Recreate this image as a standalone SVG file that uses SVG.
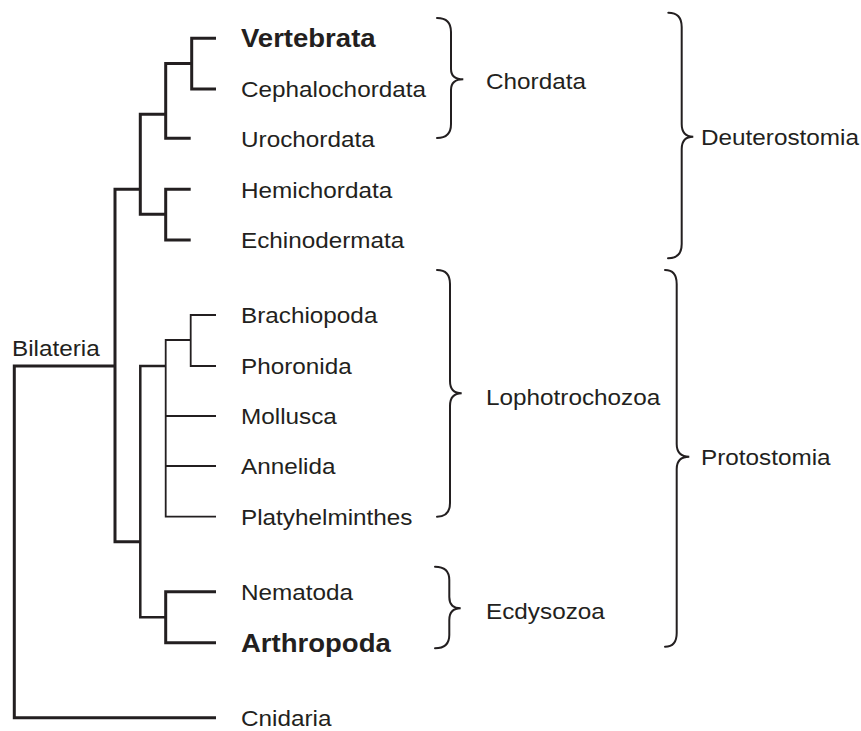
<svg xmlns="http://www.w3.org/2000/svg" width="861" height="731" viewBox="0 0 861 731">
<style>
.t{font-family:"Liberation Sans",Arial,sans-serif;font-size:22.5px;fill:#231f20}
.b{font-weight:bold;font-size:25.5px}
.thick{fill:none;stroke:#231f20;stroke-width:3;stroke-linejoin:miter}
.mid{fill:none;stroke:#231f20;stroke-width:2.5;stroke-linejoin:miter}
.thin{fill:none;stroke:#231f20;stroke-width:1.8;stroke-linejoin:miter}
.br{fill:none;stroke:#231f20;stroke-width:2;stroke-linecap:round}
</style>
<rect width="861" height="731" fill="#fff"/>
<g id="connectors">
<path class="thick" d="M216,38.3H191.7V89H216"/>
<path class="thick" d="M191.7,63.5H165.7V138.3H190.7"/>
<path class="thick" d="M165.7,114.3H140.3V214.3H165.7"/>
<path class="thick" d="M190.7,189.3H165.7V240H190.7"/>
<path class="thick" d="M140.3,189.3H115V541.7H140.3"/>
<path class="thick" d="M115,366H14.3V717.7H216"/>
<path class="mid" d="M165.7,366H140.3V617.3H165.7"/>
<path class="thick" d="M216,591.7H165.7V642.7H216"/>
<path class="thin" d="M190.7,340H165.7V516.7H216M165.7,416H216M165.7,466H216M216,315H190.7V366H216"/>
</g>
<g id="brackets">
<path id="br-chordata" class="br" d="M437,18Q451,18 451,32V69Q451,79.3 463.3,79.3Q451,79.3 451,90V124Q451,138 437,138"/>
<path id="br-deutero" class="br" d="M668.3,12.7Q681.7,12.7 681.7,27V124Q681.7,136.7 693.3,136.7Q681.7,136.7 681.7,149V244Q681.7,258.3 668,258.3"/>
<path id="br-lopho" class="br" d="M437,270Q450,270 450,284V381Q450,393.3 461.7,393.3Q450,393.3 450,406V503Q450,516.7 437,516.7"/>
<path id="br-ecdy" class="br" d="M435,566.7Q449.3,566.7 449.3,580V597Q449.3,608.3 460.7,608.3Q449.3,608.3 449.3,620V635Q449.3,648.3 435,648.3"/>
<path id="br-proto" class="br" d="M665,270Q676.7,270 676.7,284V444Q676.7,456.7 689.3,456.7Q676.7,456.7 676.7,469V633Q676.7,646.7 665,646.7"/>
</g>
<g id="n-vertebrata"><text class="t b" transform="translate(241 47) scale(1.08 1)">Vertebrata</text></g>
<g id="n-cephalochordata"><text class="t" transform="translate(241 97) scale(1.08 1)">Cephalochordata</text></g>
<g id="n-urochordata"><text class="t" transform="translate(241 146.5) scale(1.08 1)">Urochordata</text></g>
<g id="n-hemichordata"><text class="t" transform="translate(241 197.5) scale(1.08 1)">Hemichordata</text></g>
<g id="n-echinodermata"><text class="t" transform="translate(241 248) scale(1.08 1)">Echinodermata</text></g>
<g id="n-brachiopoda"><text class="t" transform="translate(241 323) scale(1.08 1)">Brachiopoda</text></g>
<g id="n-phoronida"><text class="t" transform="translate(241 374) scale(1.08 1)">Phoronida</text></g>
<g id="n-mollusca"><text class="t" transform="translate(241 424) scale(1.08 1)">Mollusca</text></g>
<g id="n-annelida"><text class="t" transform="translate(241 474) scale(1.08 1)">Annelida</text></g>
<g id="n-platyhelminthes"><text class="t" transform="translate(241 524.5) scale(1.08 1)">Platyhelminthes</text></g>
<g id="n-nematoda"><text class="t" transform="translate(241 600) scale(1.08 1)">Nematoda</text></g>
<g id="n-arthropoda"><text class="t b" transform="translate(241 651.5) scale(1.08 1)">Arthropoda</text></g>
<g id="n-cnidaria"><text class="t" transform="translate(241 726) scale(1.08 1)">Cnidaria</text></g>
<g id="n-bilateria"><text class="t" transform="translate(12 355.5) scale(1.08 1)">Bilateria</text></g>
<g id="g-chordata"><text class="t" transform="translate(486 88.5) scale(1.08 1)">Chordata</text></g>
<g id="g-deuterostomia"><text class="t" transform="translate(701 145) scale(1.08 1)">Deuterostomia</text></g>
<g id="g-lophotrochozoa"><text class="t" transform="translate(486 404.5) scale(1.08 1)">Lophotrochozoa</text></g>
<g id="g-ecdysozoa"><text class="t" transform="translate(486 619) scale(1.08 1)">Ecdysozoa</text></g>
<g id="g-protostomia"><text class="t" transform="translate(701 465) scale(1.08 1)">Protostomia</text></g>
</svg>
